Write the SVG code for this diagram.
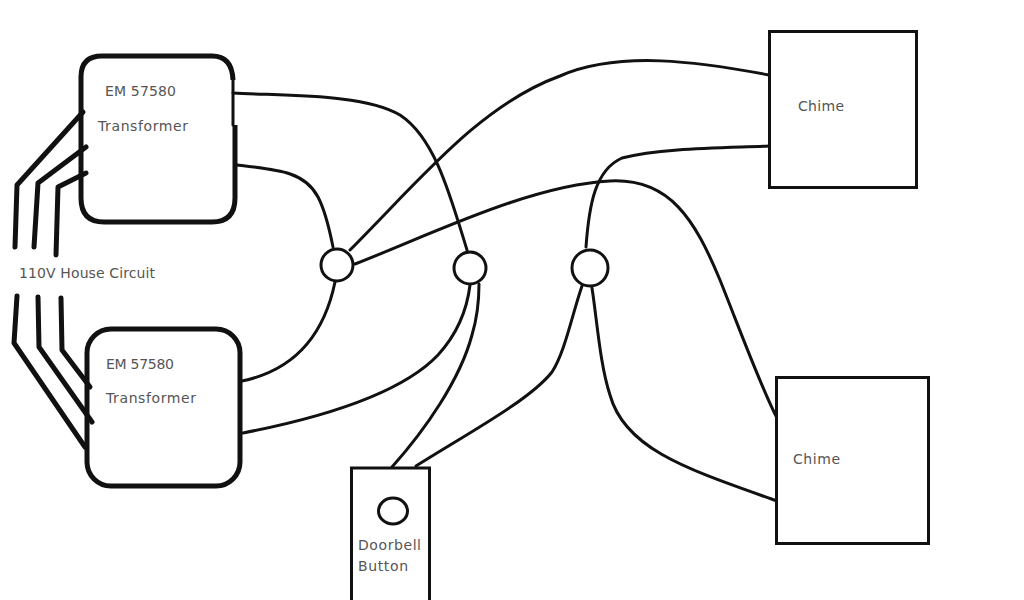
<svg xmlns="http://www.w3.org/2000/svg" width="1024" height="600" viewBox="0 0 1024 600">
<style>
.w{fill:none;stroke:#111;stroke-width:3;stroke-linecap:round;stroke-linejoin:round}
.h{fill:none;stroke:#111;stroke-width:5;stroke-linecap:round;stroke-linejoin:round}
.b{fill:#fff;stroke:#111;stroke-width:3}
.t{fill:none;stroke:#111;stroke-width:5}
text{font-family:"DejaVu Sans","Open Sans",sans-serif;font-size:14px;fill:#555}
</style>
<rect width="1024" height="600" fill="#fff"/>
<g id="connectors">
<path class="w" d="M233 93C290 96 365 94 400 115C435 138 450 195 467 250"/>
<path class="w" d="M237 165C280 170 305 172 318 197C326 212 330 232 333 247"/>
<path class="w" d="M242 381C285 372 322 345 335 282"/>
<path class="w" d="M243 433C320 418 400 395 438 355C458 333 467 310 470 285"/>
<path class="w" d="M350 250C420 180 480 105 560 76C620 50 700 62 769 75"/>
<path class="w" d="M355 264C430 235 530 185 610 181C670 178 695 220 720 280C740 330 760 385 777 418"/>
<path class="w" d="M586 247C589 205 595 170 622 158C660 148 720 148 769 146"/>
<path class="w" d="M392 467C425 430 460 380 472 335C478 315 479 300 479 284"/>
<path class="w" d="M416 466C470 432 530 400 552 372C565 352 572 315 582 286"/>
<path class="w" d="M592 288C597 320 600 365 610 395C625 450 690 470 777 501"/>
<g id="house-wires-top">
<path class="h" d="M83 112L17 185L15 247"/>
<path class="h" d="M86 147L38 183L34 247"/>
<path class="h" d="M86 173L58 187L56 255"/>
</g>
<g id="house-wires-bottom">
<path class="h" d="M17 296L14 343L85 447"/>
<path class="h" d="M38 297L39 347L92 422"/>
<path class="h" d="M61 298L62 350L90 387"/>
</g>
</g>
<g id="transformer-1"><path class="t" d="M233 80Q232 56 212 56H102Q81 56 81 77V198Q81 222 104 222H212Q235 222 235 198V125"/><path class="w" d="M233 80V125"/><text x="105" y="96" textLength="71">EM 57580</text><text x="98" y="131" textLength="90">Transformer</text></g>
<g id="transformer-2"><rect class="t" x="87" y="329" width="153" height="157" rx="24"/><text x="106" y="369" textLength="68">EM 57580</text><text x="106" y="403" textLength="90">Transformer</text></g>
<g id="junction-1"><circle class="b" cx="337" cy="265" r="16"/></g>
<g id="junction-2"><circle class="b" cx="470" cy="268" r="16"/></g>
<g id="junction-3"><circle class="b" cx="590" cy="268" r="18"/></g>
<g id="chime-1"><rect class="b" x="769.500" y="31.500" width="147" height="156"/><text x="798" y="111" textLength="46">Chime</text></g>
<g id="chime-2"><rect class="b" x="776.500" y="377.500" width="152" height="166"/><text x="793" y="464" textLength="47">Chime</text></g>
<g id="doorbell-button"><rect class="b" x="351.500" y="468" width="78" height="140"/><ellipse class="b" cx="393" cy="511" rx="14.500" ry="13"/><text x="358" y="550" textLength="63">Doorbell</text><text x="358" y="571" textLength="50">Button</text></g>
<g id="house-circuit"><text x="19" y="278" textLength="136">110V House Circuit</text></g>
</svg>
